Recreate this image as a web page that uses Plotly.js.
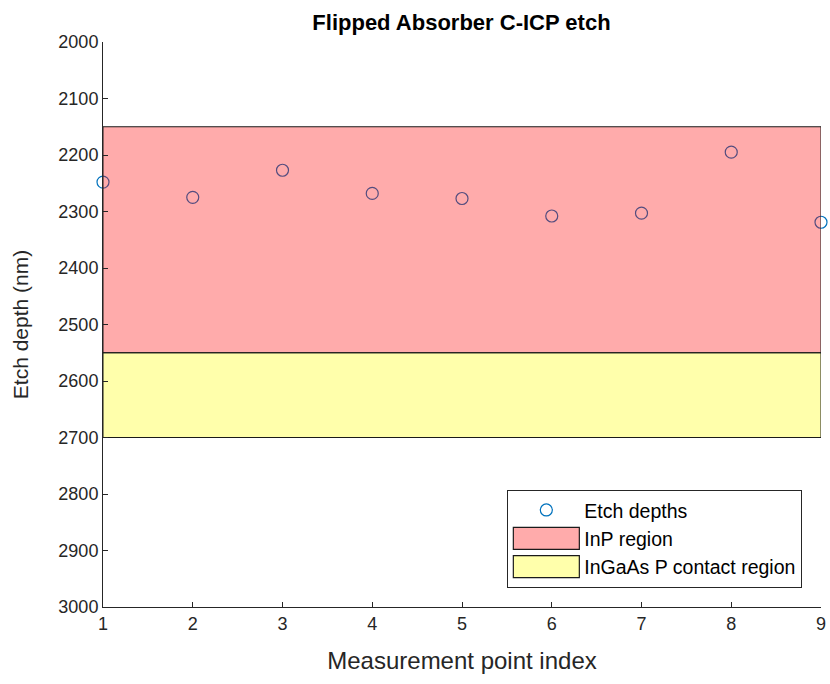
<!DOCTYPE html>
<html>
<head>
<meta charset="utf-8">
<script src="https://cdn.plot.ly/plotly-3.0.1.min.js"></script>
<style>html,body{margin:0;padding:0;background:#fff;}#chart{width:830px;height:684px;}</style>
</head>
<body>
<div id="chart"></div>
<script>
const pointIndex = [1, 2, 3, 4, 5, 6, 7, 8, 9];
const etchDepths = [2248, 2275, 2227, 2268, 2277, 2308, 2303, 2195, 2319];
const inpRegion = [2150, 2550];
const ingaasRegion = [2550, 2700];
const xTicks = [1, 2, 3, 4, 5, 6, 7, 8, 9];
const yTicks = [2000, 2100, 2200, 2300, 2400, 2500, 2600, 2700, 2800, 2900, 3000];

const xMin = Math.min(...pointIndex), xMax = Math.max(...pointIndex);
function rect(r) {
  return {x: [xMin, xMax, xMax, xMin, xMin], y: [r[0], r[0], r[1], r[1], r[0]]};
}
const font = 'Liberation Sans, Arial, sans-serif';

const traces = [
  {
    x: pointIndex, y: etchDepths, type: 'scatter', mode: 'markers', name: 'Etch depths',
    cliponaxis: false,
    marker: {symbol: 'circle-open', size: 12, color: 'rgb(0,114,189)', line: {width: 1.2}}
  },
  Object.assign(rect(inpRegion), {
    type: 'scatter', mode: 'none', fill: 'toself', name: 'InP region',
    fillcolor: 'rgba(255,0,0,0.33)', hoverinfo: 'skip'
  }),
  Object.assign(rect(ingaasRegion), {
    type: 'scatter', mode: 'none', fill: 'toself', name: 'InGaAs P contact region',
    fillcolor: 'rgba(255,255,0,0.33)', hoverinfo: 'skip'
  }),
  Object.assign(rect(inpRegion), {
    type: 'scatter', mode: 'lines', showlegend: false, line: {color: '#1a1a1a', width: 1}, hoverinfo: 'skip'
  }),
  Object.assign(rect(ingaasRegion), {
    type: 'scatter', mode: 'lines', showlegend: false, line: {color: '#1a1a1a', width: 1}, hoverinfo: 'skip'
  })
];

const layout = {
  width: 830, height: 684,
  margin: {l: 103, r: 9, t: 42, b: 77},
  paper_bgcolor: '#fff', plot_bgcolor: '#fff',
  font: {family: font, color: '#262626', size: 18},
  title: {text: '<b>Flipped Absorber C-ICP etch</b>', x: 0.556, xanchor: 'center', y: 0.968, yanchor: 'middle',
          font: {family: font, size: 22, color: '#000'}},
  showlegend: true,
  legend: {x: 0.974, xanchor: 'right', y: 0.034, yanchor: 'bottom', bgcolor: '#fff',
           bordercolor: '#262626', borderwidth: 1, font: {family: font, size: 19.5, color: '#000'},
           tracegroupgap: 0, itemwidth: 66},
  xaxis: {
    range: [xMin, xMax], tickvals: xTicks, ticks: 'inside', ticklen: 5, tickcolor: '#262626',
    showline: true, linecolor: '#262626', linewidth: 1, showgrid: false, zeroline: false,
    tickfont: {size: 18, color: '#262626'},
    title: {text: 'Measurement point index', font: {size: 24, color: '#262626'}, standoff: 19}
  },
  yaxis: {
    range: [3000, 2000], tickvals: yTicks, ticks: 'inside', ticklen: 5, tickcolor: '#262626',
    showline: true, linecolor: '#262626', linewidth: 1, showgrid: false, zeroline: false,
    tickfont: {size: 18, color: '#262626'},
    title: {text: 'Etch depth (nm)', font: {size: 21, color: '#262626'}, standoff: 24}
  }
};

Plotly.newPlot('chart', traces, layout, {displayModeBar: false, staticPlot: true}).then(function () {
  try {
    document.querySelectorAll('#chart .legend .legendfill path').forEach(function (p) {
      const b = p.getBBox();
      if (!b || !b.width) return;
      const x0 = b.x, w = b.width;
      p.setAttribute('d', 'M' + x0 + ',-11h' + w + 'v22h' + (-w) + 'z');
      p.style.stroke = '#1a1a1a';
      p.style.strokeWidth = '1.2px';
    });
  } catch (e) {}
});
</script>
</body>
</html>
